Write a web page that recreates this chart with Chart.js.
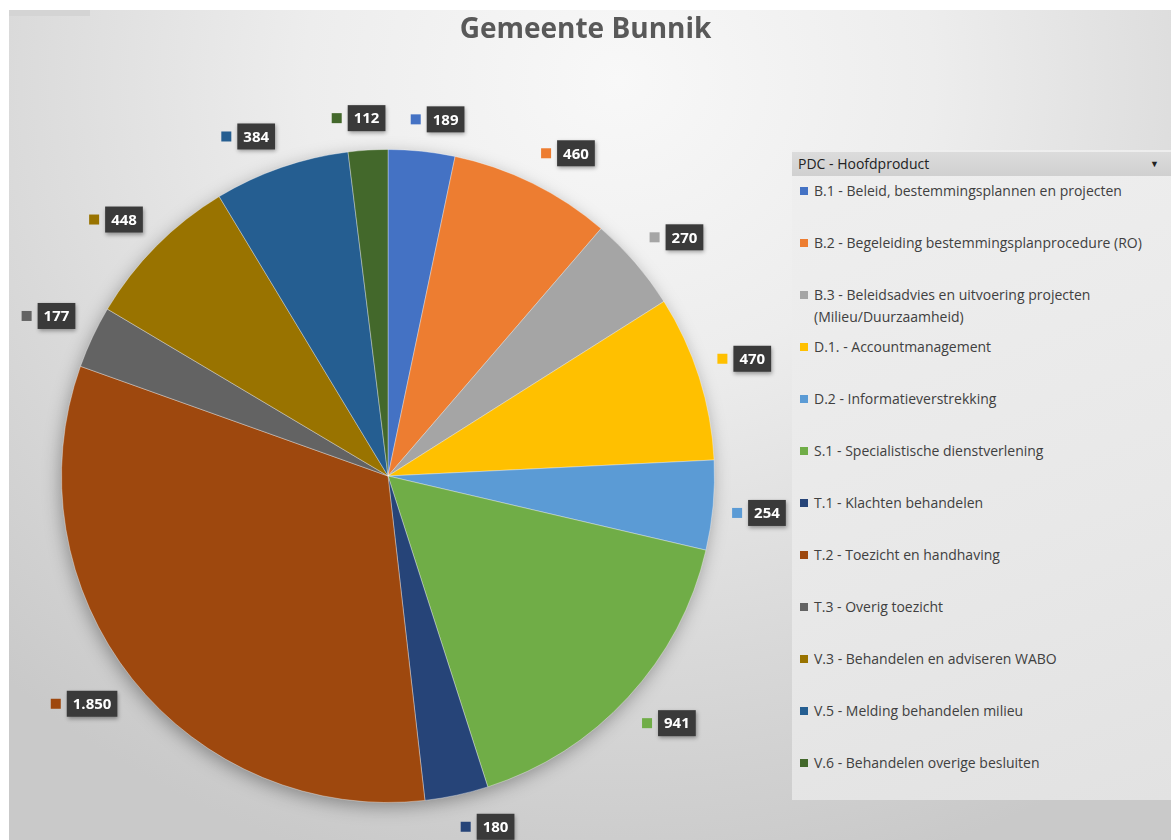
<!DOCTYPE html>
<html>
<head>
<meta charset="utf-8">
<title>Gemeente Bunnik</title>
<script src="https://cdn.jsdelivr.net/npm/chart.js@4.4.1/dist/chart.umd.min.js"></script>
<style>
  html, body { margin: 0; padding: 0; background: #fff; }
  #stage {
    position: absolute; left: 9px; top: 10px; width: 1162px; height: 830px; overflow: hidden;
    background: radial-gradient(ellipse 900px 820px at 610px 70px, #f8f8f8 0%, #ededed 35%, #d9d9d9 70%, #c9c9c9 100%);
  }
  #fieldTag {
    position: absolute; left: 9px; top: 10px; width: 81px; height: 6px; background: #d4d4d4; overflow: hidden;
  }
  #fieldTag div {
    margin-top: -15px; padding-left: 4px; font: 13px "Open Sans", sans-serif; color: #3a4a66; white-space: nowrap;
  }
  #title {
    position: absolute; left: 0; width: 1171px; top: 8px; text-align: center;
    font: bold 28px "Open Sans", sans-serif; color: #595959; z-index: 3;
  }
  #legend {
    position: absolute; left: 792px; top: 150px; width: 379px; height: 650px; z-index: 1;
    background: linear-gradient(160deg, #efefef 0%, #e8e8e8 60%, #e2e2e2 100%);
    font-family: "Open Sans", sans-serif; color: #404040;
  }
  #legend .head {
    margin-top: 2px; height: 24px; line-height: 24px; padding-left: 6px; font-size: 14px; color: #222;
    background: linear-gradient(#dcdcdc, #d0d0d0); position: relative;
  }
  #legend .head span { position: absolute; right: 12px; top: 0; font-size: 9px; }
  #legend .item {
    position: absolute; left: 8px; width: 350px; font-size: 14px; line-height: 22px;
    padding-left: 14px;
  }
  #legend .item i {
    position: absolute; left: 0; top: 7px; width: 8px; height: 8px;
  }
  #chartBox { position: absolute; left: 0; top: 0; z-index: 2; }
</style>
</head>
<body>
<div id="stage"></div>
<div id="fieldTag"><div>Som van Aantal</div></div>
<div id="title">Gemeente Bunnik</div>
<div id="legend"><div class="head">PDC - Hoofdproduct<span>&#9660;</span></div></div>
<div id="chartBox"><canvas id="pie" width="1171" height="840"></canvas></div>
<script>
// Gemeente Bunnik - aantallen per PDC hoofdproduct
const products = [
  'B.1 - Beleid, bestemmingsplannen en projecten',
  'B.2 - Begeleiding bestemmingsplanprocedure (RO)',
  'B.3 - Beleidsadvies en uitvoering projecten (Milieu/Duurzaamheid)',
  'D.1. - Accountmanagement',
  'D.2 - Informatieverstrekking',
  'S.1 - Specialistische dienstverlening',
  'T.1 - Klachten behandelen',
  'T.2 - Toezicht en handhaving',
  'T.3 - Overig toezicht',
  'V.3 - Behandelen en adviseren WABO',
  'V.5 - Melding behandelen milieu',
  'V.6 - Behandelen overige besluiten'
];
const counts = [189, 460, 270, 470, 254, 941, 180, 1850, 177, 448, 384, 112];
const sliceColors = [
  '#4472C4', '#ED7D31', '#A5A5A5', '#FFC000', '#5B9BD5', '#70AD47',
  '#264478', '#9E480E', '#636363', '#997300', '#255E91', '#43682B'
];

// Dutch thousands separator (1.850)
function formatNl(n) {
  return String(n).replace(/\B(?=(\d{3})+(?!\d))/g, '.');
}

function buildLegend() {
  const legendEl = document.getElementById('legend');
  products.forEach((label, i) => {
    const item = document.createElement('div');
    item.className = 'item';
    item.style.top = (30 + i * 52) + 'px';
    item.innerHTML = '<i style="background:' + sliceColors[i] + '"></i>' + label;
    legendEl.appendChild(item);
  });
}

// soft shadow under the pie
const pieShadow = {
  id: 'pieShadow',
  beforeDatasetsDraw(chart) {
    const arc = chart.getDatasetMeta(0).data[0];
    if (!arc) return;
    const ctx = chart.ctx;
    ctx.save();
    ctx.shadowColor = 'rgba(0,0,0,0.35)';
    ctx.shadowBlur = 18;
    ctx.shadowOffsetX = -2;
    ctx.shadowOffsetY = 5;
    ctx.fillStyle = '#999';
    ctx.beginPath();
    ctx.arc(arc.x, arc.y, arc.outerRadius - 1, 0, Math.PI * 2);
    ctx.fill();
    ctx.restore();
  }
};

const clamp = (v) => Math.max(-1, Math.min(1, v));

// Excel style value labels: coloured key + dark box outside the slice.
// The label corner nearest the pie sits on a ring just outside the slice.
const outsideLabels = {
  id: 'outsideLabels',
  afterDatasetsDraw(chart) {
    const ctx = chart.ctx;
    const meta = chart.getDatasetMeta(0);
    ctx.save();
    ctx.font = 'bold 15px "Open Sans", sans-serif';
    ctx.textBaseline = 'middle';
    meta.data.forEach((arc, i) => {
      const p = arc.getProps(['x', 'y', 'startAngle', 'endAngle', 'outerRadius'], true);
      const mid = (p.startAngle + p.endAngle) / 2;
      const text = formatNl(counts[i]);
      const boxW = ctx.measureText(text).width + 12;
      const boxH = 26;
      const keySize = 10, keyGap = 6;
      const totalW = keySize + keyGap + boxW;
      const dx = Math.cos(mid), dy = Math.sin(mid);
      const ring = p.outerRadius + 19;
      const ax = p.x + dx * ring;
      const ay = p.y + dy * ring;
      const cx = ax + clamp(dx * 5) * totalW / 2;
      const cy = ay + clamp(dy * 5) * boxH / 2;
      const left = cx - totalW / 2;
      // key square
      ctx.fillStyle = sliceColors[i];
      ctx.fillRect(left, cy - keySize / 2, keySize, keySize);
      // box
      const bx = left + keySize + keyGap;
      ctx.shadowColor = 'rgba(0,0,0,0.35)';
      ctx.shadowBlur = 4;
      ctx.shadowOffsetX = 1;
      ctx.shadowOffsetY = 2;
      ctx.fillStyle = '#3a3a3a';
      ctx.fillRect(bx, cy - boxH / 2, boxW, boxH);
      ctx.shadowColor = 'transparent';
      ctx.fillStyle = '#ffffff';
      ctx.textAlign = 'center';
      ctx.fillText(text, bx + boxW / 2, cy + 1);
    });
    ctx.restore();
  }
};

function init() {
  if (typeof Chart === 'undefined') {
    setTimeout(init, 100);
    return;
  }
  buildLegend();
  new Chart(document.getElementById('pie'), {
    type: 'pie',
    data: {
      labels: products,
      datasets: [{
        data: counts,
        backgroundColor: sliceColors,
        borderColor: 'rgba(255,255,255,0.35)',
        borderWidth: 1
      }]
    },
    options: {
      responsive: false,
      animation: false,
      layout: { padding: { left: 61, right: 456, top: 149, bottom: 37 } },
      plugins: {
        legend: { display: false },
        title: { display: false },
        tooltip: { enabled: false }
      }
    },
    plugins: [pieShadow, outsideLabels]
  });
}

if (document.readyState === 'loading') {
  document.addEventListener('DOMContentLoaded', init);
} else {
  init();
}
</script>
</body>
</html>
